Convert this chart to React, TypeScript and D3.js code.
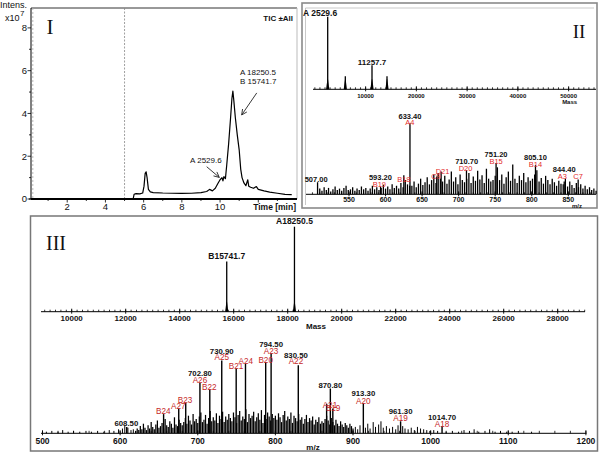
import React from "react";
import * as d3 from "d3";

const FONT = "'Liberation Sans', Arial, sans-serif";
const SERIF = "'Liberation Serif', 'Times New Roman', serif";
const RED2 = "#e32b2b";
const RED3 = "#c62828";

// ---------- Panel I : TIC chromatogram ----------
const ticTime = [0, 5.45, 5.5, 5.6, 5.8, 5.95, 6.02, 6.08, 6.13, 6.18, 6.25, 6.35, 6.5, 7.0, 7.5, 8.0, 8.5, 9.0, 9.3, 9.45, 9.6, 9.75, 9.9, 10.0, 10.1, 10.15, 10.2, 10.28, 10.35, 10.45, 10.55, 10.62, 10.67, 10.72, 10.8, 10.9, 11.0, 11.08, 11.15, 11.25, 11.35, 11.45, 11.5, 11.6, 11.75, 11.9, 12.0, 12.3, 12.6, 13.0, 13.4, 13.75];
const ticIntensity = [0, 0, 0.22, 0.25, 0.24, 0.28, 0.6, 1.2, 1.27, 1.0, 0.45, 0.33, 0.3, 0.28, 0.27, 0.26, 0.27, 0.3, 0.35, 0.45, 0.38, 0.5, 0.75, 0.9, 1.0, 0.85, 1.05, 0.95, 1.6, 2.6, 3.8, 4.7, 5.05, 4.6, 3.8, 3.0, 2.3, 1.4, 1.0, 0.75, 0.62, 0.9, 0.6, 0.55, 0.5, 0.58, 0.45, 0.38, 0.32, 0.27, 0.22, 0.2];
const ticYTicks = [0, 2, 4, 6, 8];
const ticXTicks = [2, 4, 6, 8, 10];
// annotations: [text, time, intensity]
const ticTexts: [string, number, number][] = [
  ["A 18250.5", 11.04, 5.8],
  ["B 15741.7", 11.04, 5.38],
  ["A 2529.6", 8.43, 1.68],
];
// arrows: [fromT, fromI, toT, toI]
const ticArrows: [number, number, number, number][] = [
  [11.92, 4.96, 11.13, 3.93],
  [9.3, 1.51, 9.96, 1.01],
];

// ---------- Panel II top : deconvoluted mass ----------
const massIIMass = [2529.6, 6000, 11257.7, 14213];
const massIIInt = [100, 18, 33, 18];
const massIITicks = [10000, 20000, 30000, 40000, 50000];

// ---------- Panel II bottom : m/z spectrum ----------
const mzIINoiseStart = 510;
const mzIINoiseStep = 3;
const mzIINoise = [
  8, 5, 10, 6, 9, 4, 7, 11, 6, 8, 5, 9, 12, 6, 7, 10, 5, 8, 6, 11, 7, 9, 5, 8, 12, 7, 10, 6, 9, 13, 8, 11, 7, 14, 9, 12, 8,
  16, 10, 20, 14, 12, 12, 18, 10, 15, 22, 13, 17, 24, 14, 20, 28, 16, 30, 22, 18, 26, 15, 21, 32, 18, 24, 14, 28, 20, 17, 22, 30, 16, 25,
  19, 33, 21, 27, 16, 36, 22, 18, 20, 26, 38, 20, 28, 15, 24, 32, 19, 42, 22, 16, 26, 20, 30, 17, 24, 19, 22, 28, 34, 18, 23, 15, 26, 20,
  14, 22, 17, 12, 19, 15, 14, 22, 11, 18, 13, 9, 16, 10, 14, 8, 12, 7, 10, 6, 8, 5,
];
const mzIIPeakMz = [507, 593.2, 625, 633.4, 670, 676, 710.7, 751.2, 805.1, 844.4, 863.5];
const mzIIPeakInt = [17, 11, 27, 100, 25, 32, 34, 44, 41, 18, 21];
const mzIITicks = [550, 600, 650, 700, 750, 800, 850];
const mzIILabels: [string, number, number, string][] = [
  ["507.00", 505, 17.3, "k"], ["593.20", 593, 19.5, "k"], ["B19", 591.5, 10.3, "r"],
  ["B18", 625, 17.3, "r"], ["C9", 669, 22, "r"], ["D21", 678, 29, "r"],
  ["633.40", 633.4, 105.4, "k"], ["A4", 633.4, 97, "r"],
  ["710.70", 711, 42, "k"], ["D20", 709.5, 32.8, "r"],
  ["751.20", 751.2, 52.5, "k"], ["B15", 751.2, 42.7, "r"],
  ["805.10", 805.1, 49, "k"], ["B14", 805.1, 39, "r"],
  ["844.40", 844.4, 31.4, "k"], ["A3", 842, 21.5, "r"], ["C7", 863.5, 21.5, "r"],
];

// ---------- Panel III top : deconvoluted mass ----------
const massIIIMass = [15741.7, 18250.5];
const massIIIInt = [59, 100];
const massIIILabels = ["B15741.7", "A18250.5"];
const massIIITicks = [10000, 12000, 14000, 16000, 18000, 20000, 22000, 24000, 26000, 28000];

// ---------- Panel III bottom : m/z spectrum ----------
const mzIIIDenseStart = 620;
const mzIIIDenseStep = 2;
const mzIIIDense = [
  3, 6, 4, 9, 5, 12, 7, 4, 10, 6, 14, 8, 5, 11, 16, 7, 9, 13, 6, 18, 10, 8, 15, 12, 7, 20, 11, 9, 17, 13, 10,
  14, 19, 12, 22, 16, 11, 24, 15, 18, 13, 21, 26, 14, 17, 23, 12, 19, 28, 15, 20, 16, 25, 13, 22, 18, 27, 14, 21, 17, 24,
  19, 15, 26, 20, 13, 23, 28, 16, 21, 18, 30, 14, 24, 19, 22, 27, 15, 20, 25, 17, 29, 13, 23, 18, 26, 21, 16, 24, 19, 22,
  17, 25, 20, 14, 23, 28, 16, 21, 18, 26, 13, 22, 19, 15, 24, 17, 20, 12, 18, 23, 14, 19, 16, 21, 11, 17, 14, 20, 12, 15,
  13, 18, 22, 16, 11, 19, 14, 10, 17, 12, 9, 15, 11, 8, 13, 10, 7, 12, 9, 6,
];
const mzIIISparse: [number, number][] = [
  [505, 2], [512, 3], [520, 2], [526, 4], [533, 2], [540, 3], [548, 2], [556, 3], [563, 2], [571, 3], [579, 2], [586, 4],
  [592, 3], [598, 5], [603, 6], [606, 9], [610, 7], [614, 4], [617, 5],
  [903, 8], [906, 5], [909, 10], [916, 7], [919, 12], [922, 6], [926, 14], [929, 8], [933, 11], [936, 15], [939, 7],
  [943, 9], [947, 6], [951, 8], [955, 5], [958, 10], [964, 9], [967, 6], [971, 5], [975, 7], [979, 4], [983, 8], [987, 6],
  [991, 5], [995, 4], [999, 3], [1004, 4], [1009, 3], [1020, 2], [1028, 3], [1036, 2], [1043, 4], [1050, 3], [1056, 5],
  [1062, 2], [1070, 3], [1076, 5], [1083, 2], [1090, 3], [1098, 2], [1105, 2], [1113, 3], [1130, 2],
];
const mzIIIPeakMz = [608.5, 656, 675.5, 684.5, 702.8, 715.5, 730.9, 749.5, 761.5, 787.5, 794.5, 829.5, 866, 870.8, 874, 913.3, 961.3, 1014.7];
const mzIIIPeakInt = [8, 24, 31, 38, 63, 55, 91, 81, 87.5, 89, 100, 85, 37, 56, 31, 37.5, 15, 9];
const mzIIITicks = [500, 600, 700, 800, 900, 1000, 1100, 1200];
const mzIIILabels: [string, number, number, string][] = [
  ["608.50", 608, 8.75, "k"], ["B24", 655.6, 24.5, "r"], ["A27", 675, 30.4, "r"], ["B23", 683.6, 37.9, "r"],
  ["702.80", 702.8, 71.3, "k"], ["A26", 702.8, 62.9, "r"], ["B22", 714.9, 54.5, "r"],
  ["730.90", 730.9, 99.5, "k"], ["A25", 730.9, 91.3, "r"], ["B21", 749.3, 80.4, "r"], ["A24", 761.8, 87, "r"],
  ["B20", 787.5, 87.9, "r"], ["794.50", 794.5, 107.9, "k"], ["A23", 794.5, 99.5, "r"],
  ["830.50", 826.5, 94, "k"], ["A22", 826.5, 86.6, "r"],
  ["870.80", 870.8, 56.6, "k"], ["A21", 870.3, 31.6, "r"], ["B19", 874.2, 27.9, "r"],
  ["913.30", 913.3, 46.3, "k"], ["A20", 913.3, 36.6, "r"],
  ["961.30", 961.3, 24.5, "k"], ["A19", 961.3, 15, "r"],
  ["1014.70", 1014.7, 17, "k"], ["A18", 1014.7, 7.9, "r"],
];

type Lin = d3.ScaleLinear<number, number>;

function StickAxis(props: {
  x: Lin; y: number; x0: number; x1: number; minorStep: number; majors: number[];
  fontSize: number; labelY: number; lw?: number; minorLen?: number;
}) {
  const { x, y, x0, x1, minorStep, majors, fontSize, labelY, lw = 1, minorLen = 2 } = props;
  const d0 = x.invert(x0), d1 = x.invert(x1);
  const minors = d3.range(Math.ceil(d0 / minorStep) * minorStep, d1, minorStep);
  return (
    <g>
      <line x1={x0} x2={x1} y1={y} y2={y} stroke="#000" strokeWidth={lw} />
      {minors.map((m) => (
        <line key={"m" + m} x1={x(m)} x2={x(m)} y1={y} y2={y - minorLen} stroke="#000" strokeWidth={0.8} />
      ))}
      {majors.map((m) => (
        <g key={"M" + m}>
          <line x1={x(m)} x2={x(m)} y1={y - 3} y2={y + 2} stroke="#000" strokeWidth={0.9} />
          <text x={x(m)} y={labelY} textAnchor="middle" fontSize={fontSize} fontWeight="bold" fill="#111">{m}</text>
        </g>
      ))}
    </g>
  );
}

function Sticks(props: { xs: number[]; hs: number[]; x: Lin; y: Lin; sw?: number }) {
  const { xs, hs, x, y, sw = 1 } = props;
  return (
    <g stroke="#000" strokeWidth={sw}>
      {xs.map((m, i) => (
        <line key={i} x1={x(m)} x2={x(m)} y1={y(0)} y2={y(hs[i])} />
      ))}
    </g>
  );
}

function MassPeaks(props: { xs: number[]; hs: number[]; x: Lin; y: Lin }) {
  const { xs, hs, x, y } = props;
  return (
    <g>
      {xs.map((m, i) => {
        const px = x(m), b = y(0), t = y(hs[i]);
        return (
          <g key={i}>
            <line x1={px} x2={px} y1={b} y2={t} stroke="#000" strokeWidth={1.3} />
            <path d={`M${px - 1.6},${b} L${px - 0.3},${b - 10} L${px + 0.3},${b - 10} L${px + 1.6},${b} Z`} fill="#000" />
          </g>
        );
      })}
    </g>
  );
}

function Labels(props: { items: [string, number, number, string][]; x: Lin; y: Lin; fk: number; fr: number; red: string }) {
  const { items, x, y, fk, fr, red } = props;
  return (
    <g>
      {items.map(([t, m, lv, c], i) => (
        <text key={i} x={x(m)} y={y(lv)} textAnchor="middle" fontSize={c === "k" ? fk : fr}
          fontWeight={c === "k" ? "bold" : "normal"} fill={c === "k" ? "#111" : red}>{t}</text>
      ))}
    </g>
  );
}

export default function App() {
  // Panel I scales
  const xI = d3.scaleLinear().domain([0, 14]).range([29, 296.5]);
  const yI = d3.scaleLinear().domain([0, 8.93]).range([199, 8]);
  const ticPath = d3.line<number>().x((_, i) => xI(ticTime[i])).y((d) => yI(d))(ticIntensity) || "";

  // Panel II scales
  const xIIm = d3.scaleLinear().domain([2529.6, 11257.7]).range([327.7, 372]);
  const yIIm = d3.scaleLinear().domain([0, 100]).range([89.3, 16.7]);
  const xIIz = d3.scaleLinear().domain([550, 850]).range([349, 568.3]);
  const yIIz = d3.scaleLinear().domain([0, 100]).range([194.3, 123.3]);
  const noiseIIx = mzIINoise.map((_, i) => mzIINoiseStart + i * mzIINoiseStep);

  // Panel III scales
  const xIIIm = d3.scaleLinear().domain([10000, 28000]).range([71.7, 557.7]);
  const yIIIm = d3.scaleLinear().domain([0, 100]).range([311.7, 226.7]);
  const xIIIz = d3.scaleLinear().domain([500, 1200]).range([42.5, 585.9]);
  const yIIIz = d3.scaleLinear().domain([0, 100]).range([433.3, 353.3]);
  const denseIIIx = mzIIIDense.map((_, i) => mzIIIDenseStart + i * mzIIIDenseStep);

  const arrowHead = (x1: number, y1: number, x2: number, y2: number) => {
    const a = Math.atan2(y2 - y1, x2 - x1), L = 6, f = 0.45;
    const p1 = [x2 - L * Math.cos(a - f), y2 - L * Math.sin(a - f)];
    const p2 = [x2 - L * Math.cos(a + f), y2 - L * Math.sin(a + f)];
    return `M${p1[0]},${p1[1]} L${x2},${y2} L${p2[0]},${p2[1]}`;
  };

  return (
    <svg width={600} height={453} viewBox="0 0 600 453"
      style={{ position: "absolute", left: 0, top: 0, background: "#fff" }} fontFamily={FONT}>
      <rect x={0} y={0} width={600} height={453} fill="#fff" />

      {/* ===== Panel I ===== */}
      <g>
        <text x={0} y={7.5} fontSize={9} fill="#111">Intens.</text>
        <text x={5} y={20.5} fontSize={9} fill="#111">x10</text>
        <text x={20} y={15.5} fontSize={8} fill="#111">7</text>
        <line x1={31} x2={297} y1={8} y2={8} stroke="#333" strokeWidth={1} />
        <line x1={297} x2={297} y1={8} y2={199} stroke="#bbb" strokeWidth={1} />
        <line x1={xI(0.2)} x2={xI(0.2)} y1={8} y2={199} stroke="#aaa" strokeWidth={0.8} strokeDasharray="2,2" />
        <line x1={xI(5)} x2={xI(5)} y1={8} y2={199} stroke="#888" strokeWidth={0.8} strokeDasharray="2,1.5" />
        <line x1={31} x2={31} y1={8} y2={199} stroke="#000" strokeWidth={1} />
        {d3.range(0, 9, 1).map((v) => (
          <line key={"yt" + v} x1={v % 2 === 0 ? 27.5 : 29} x2={31} y1={yI(v)} y2={yI(v)} stroke="#000" strokeWidth={0.8} />
        ))}
        {ticYTicks.map((v) => (
          <text key={"yl" + v} x={27} y={yI(v) + 3.3} textAnchor="end" fontSize={9.5} fill="#111">{v}</text>
        ))}
        <line x1={31} x2={297} y1={199} y2={199} stroke="#000" strokeWidth={2} />
        {d3.range(1, 14, 1).map((v) => (
          <line key={"xt" + v} x1={xI(v)} x2={xI(v)} y1={199} y2={v % 2 === 0 ? 202.5 : 201} stroke="#000" strokeWidth={0.8} />
        ))}
        {ticXTicks.map((v) => (
          <text key={"xl" + v} x={xI(v)} y={210} textAnchor="middle" fontSize={9.5} fill="#111">{v}</text>
        ))}
        <text x={296} y={210} textAnchor="end" fontSize={8.5} fontWeight="bold" fill="#111">Time [min]</text>
        <path d={ticPath} fill="none" stroke="#000" strokeWidth={1.2} strokeLinejoin="round" />
        <text x={293} y={21} textAnchor="end" fontSize={8} fontWeight="bold" fill="#111">TIC ±All</text>
        {ticTexts.map(([t, tm, iv], i) => (
          <text key={"tt" + i} x={xI(tm)} y={yI(iv)} fontSize={8} fill="#111">{t}</text>
        ))}
        {ticArrows.map(([t1, i1, t2, i2], i) => {
          const x1 = xI(t1), y1 = yI(i1), x2 = xI(t2), y2 = yI(i2);
          return (
            <g key={"ar" + i} stroke="#222" strokeWidth={0.9} fill="none">
              <line x1={x1} y1={y1} x2={x2} y2={y2} />
              <path d={arrowHead(x1, y1, x2, y2)} />
            </g>
          );
        })}
        <text x={50} y={34} textAnchor="middle" fontSize={21} fontFamily={SERIF} fill="#111">I</text>
      </g>

      {/* ===== Panel II ===== */}
      <g>
        <rect x={302} y={3} width={295} height={205} fill="none" stroke="#8a8a8a" strokeWidth={1.6} />
        <line x1={305.5} x2={305.5} y1={8} y2={205} stroke="#bbb" strokeWidth={0.8} />
        <line x1={305.5} x2={594} y1={8} y2={8} stroke="#bbb" strokeWidth={0.8} />
        <StickAxis x={xIIm} y={89.3} x0={313} x1={596} minorStep={1000} majors={massIITicks} fontSize={6} labelY={98} />
        <text x={xIIm(50000) + 1} y={103.5} textAnchor="middle" fontSize={6} fontWeight="bold" fill="#111">Mass</text>
        <MassPeaks xs={massIIMass} hs={massIIInt} x={xIIm} y={yIIm} />
        <text x={303} y={16} fontSize={8.5} fontWeight="bold" fill="#111">A 2529.6</text>
        <text x={xIIm(11257.7)} y={65} textAnchor="middle" fontSize={8} fontWeight="bold" fill="#111">11257.7</text>
        <text x={579} y={37.5} textAnchor="middle" fontSize={19} fontFamily={SERIF} fill="#111">II</text>

        <StickAxis x={xIIz} y={194.3} x0={306} x1={596} minorStep={10} majors={mzIITicks} fontSize={7} labelY={202} />
        <text x={577} y={208} textAnchor="middle" fontSize={6} fontWeight="bold" fill="#111">m/z</text>
        <Sticks xs={noiseIIx} hs={mzIINoise} x={xIIz} y={yIIz} sw={1.3} />
        <Sticks xs={mzIIPeakMz} hs={mzIIPeakInt} x={xIIz} y={yIIz} sw={1.3} />
        <Labels items={mzIILabels} x={xIIz} y={yIIz} fk={7.5} fr={7.5} red={RED2} />
      </g>

      {/* ===== Panel III ===== */}
      <g>
        <rect x={30.5} y={216} width={567} height={235} fill="none" stroke="#777" strokeWidth={1.5} />
        <text x={56} y={250} textAnchor="middle" fontSize={20} fontFamily={SERIF} fill="#111">III</text>
        <StickAxis x={xIIIm} y={311.7} x0={41} x1={585} minorStep={200} majors={massIIITicks} fontSize={8} labelY={321} />
        <text x={316} y={329} textAnchor="middle" fontSize={8} fontWeight="bold" fill="#111">Mass</text>
        <MassPeaks xs={massIIIMass} hs={massIIIInt} x={xIIIm} y={yIIIm} />
        {massIIILabels.map((t, i) => (
          <text key={"ml" + i} x={xIIIm(massIIIMass[i])} y={yIIIm(massIIIInt[i]) - 3} textAnchor="middle"
            fontSize={8.5} fontWeight="bold" fill="#111">{t}</text>
        ))}

        <StickAxis x={xIIIz} y={433.3} x0={41} x1={586.5} minorStep={20} majors={mzIIITicks} fontSize={8.5} labelY={444} minorLen={2.5} />
        <text x={313} y={450} textAnchor="middle" fontSize={8} fontWeight="bold" fill="#111">m/z</text>
        <Sticks xs={mzIIISparse.map((d) => d[0])} hs={mzIIISparse.map((d) => d[1])} x={xIIIz} y={yIIIz} sw={1} />
        <Sticks xs={denseIIIx} hs={mzIIIDense} x={xIIIz} y={yIIIz} sw={1.25} />
        <Sticks xs={mzIIIPeakMz} hs={mzIIIPeakInt} x={xIIIz} y={yIIIz} sw={1.4} />
        <Labels items={mzIIILabels} x={xIIIz} y={yIIIz} fk={7.8} fr={8.2} red={RED3} />
      </g>
    </svg>
  );
}
